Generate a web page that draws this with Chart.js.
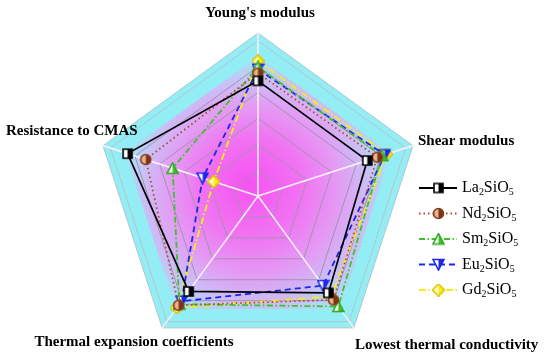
<!DOCTYPE html>
<html>
<head>
<meta charset="utf-8">
<script src="https://cdn.jsdelivr.net/npm/chart.js@4.4.1/dist/chart.umd.min.js"></script>
<style>
    html, body { margin: 0; padding: 0; background: #fff; }
    #radar { display: block; }
</style>
</head>
<body>
<canvas id="radar" width="550" height="359"></canvas>
<script>
const axisLabels = ["Young's modulus", 'Shear modulus', 'Lowest thermal conductivity', 'Thermal expansion coefficients', 'Resistance to CMAS'];
const seriesNames = ['La2SiO5', 'Nd2SiO5', 'Sm2SiO5', 'Eu2SiO5', 'Gd2SiO5'];
const laValues = [4.45, 4.44, 4.63, 4.56, 5.30];
const ndValues = [4.75, 4.85, 4.96, 5.22, 4.56];
const smValues = [4.99, 5.04, 5.28, 5.17, 3.47];
const euValues = [4.90, 5.15, 4.28, 5.03, 2.25];
const gdValues = [5.22, 5.23, 4.80, 5.34, 1.80];
const scaleMax = 6.3;

const SERIF = '"Liberation Serif", "Times New Roman", serif';

function makeMarker(shape, dark, light, edge) {
    const c = document.createElement('canvas');
    c.width = 13; c.height = 13;
    const g = c.getContext('2d');
    const path = () => {
        g.beginPath();
        if (shape === 'square') g.rect(2, 2, 9, 9);
        else if (shape === 'circle') g.arc(6.5, 6.5, 5, 0, Math.PI * 2);
        else if (shape === 'up') { g.moveTo(6.5, 1); g.lineTo(12, 11.5); g.lineTo(1, 11.5); g.closePath(); }
        else if (shape === 'down') { g.moveTo(1, 1.5); g.lineTo(12, 1.5); g.lineTo(6.5, 12); g.closePath(); }
        else { g.moveTo(6.5, 0.5); g.lineTo(12.5, 6.5); g.lineTo(6.5, 12.5); g.lineTo(0.5, 6.5); g.closePath(); }
    };
    path();
    g.fillStyle = dark;
    g.fill();
    g.save();
    path();
    g.clip();
    g.fillStyle = light;
    g.fillRect(0, 0, 6.5, 13);
    g.restore();
    path();
    g.strokeStyle = edge;
    g.lineWidth = 1.6;
    g.stroke();
    return c;
}

const seriesStyles = [
    { color: '#000000', dash: [], marker: makeMarker('square', '#000000', '#ffffff', '#000000') },
    { color: '#b4452e', dash: [1.5, 3], marker: makeMarker('circle', '#7a3417', '#e6b48c', '#8a3a1a') },
    { color: '#3fc22a', dash: [6, 2.5, 1.5, 2.5], marker: makeMarker('up', '#3fc22a', '#ffffff', '#2fa81e') },
    { color: '#1c28e8', dash: [6, 4], marker: makeMarker('down', '#1c28e8', '#ffffff', '#1c28e8') },
    { color: '#f7ec1a', dash: [7, 2.5, 1.5, 2.5], marker: makeMarker('diamond', '#f7ec1a', '#fffbc0', '#e3c400') }
];

const allValues = [laValues, ndValues, smValues, euValues, gdValues];

const datasets = seriesNames.map((name, i) => ({
    label: name,
    data: allValues[i],
    borderColor: seriesStyles[i].color,
    borderDash: seriesStyles[i].dash,
    borderWidth: i === 0 ? 1.7 : 1.8,
    backgroundColor: 'transparent',
    fill: false,
    pointStyle: seriesStyles[i].marker,
    pointRadius: 6
}));

function pentagon(ctx, scale, value) {
    ctx.beginPath();
    for (let i = 0; i < axisLabels.length; i++) {
        const p = scale.getPointPositionForValue(i, value);
        if (i === 0) ctx.moveTo(p.x, p.y); else ctx.lineTo(p.x, p.y);
    }
    ctx.closePath();
}

const backgroundPlugin = {
    id: 'pentagonBackground',
    beforeDraw(chart) {
        const ctx = chart.ctx;
        const r = chart.scales.r;
        ctx.save();
        pentagon(ctx, r, scaleMax);
        ctx.fillStyle = '#93edf5';
        ctx.fill();
        const grad = ctx.createRadialGradient(r.xCenter - 10, r.yCenter - 14, 0, r.xCenter, r.yCenter, r.drawingArea * 0.86);
        grad.addColorStop(0, '#f652f2');
        grad.addColorStop(0.35, '#f172f2');
        grad.addColorStop(0.6, '#e49af4');
        grad.addColorStop(0.8, '#cabff6');
        grad.addColorStop(0.93, '#addcf6');
        grad.addColorStop(1, '#9ee8f6');
        pentagon(ctx, r, 5.4);
        ctx.fillStyle = grad;
        ctx.fill();
        ctx.restore();
    }
};

function drawFormula(ctx, text, x, y, size) {
    const parts = text.match(/[A-Za-z]+|\d+/g);
    let cx = x;
    parts.forEach(part => {
        const sub = /^\d+$/.test(part);
        ctx.font = (sub ? size * 0.62 : size) + 'px ' + SERIF;
        ctx.fillText(part, cx, sub ? y + size * 0.3 : y);
        cx += ctx.measureText(part).width;
    });
}

const labelPlugin = {
    id: 'axisTitlesAndLegend',
    afterDraw(chart) {
        const ctx = chart.ctx;
        const r = chart.scales.r;
        ctx.save();
        ctx.fillStyle = '#000';
        ctx.textBaseline = 'middle';
        ctx.font = 'bold 15px ' + SERIF;

        const top = r.getPointPositionForValue(0, scaleMax);
        ctx.textAlign = 'center';
        ctx.fillText(axisLabels[0], top.x + 2, 13);
        ctx.fillText(axisLabels[3], 134, 342);

        ctx.textAlign = 'left';
        ctx.fillText(axisLabels[1], 418, 141);
        ctx.fillText(axisLabels[2], 355, 345);
        ctx.fillText(axisLabels[4], 6, 131);

        // legend
        const x0 = chart.chartArea.right - 2;
        seriesNames.forEach((name, i) => {
            const y = 188 + i * 25.5;
            ctx.beginPath();
            ctx.setLineDash(seriesStyles[i].dash);
            ctx.strokeStyle = seriesStyles[i].color;
            ctx.lineWidth = 1.8;
            ctx.moveTo(x0, y);
            ctx.lineTo(x0 + 38, y);
            ctx.stroke();
            ctx.setLineDash([]);
            ctx.drawImage(seriesStyles[i].marker, x0 + 13, y - 6.5);
            ctx.fillStyle = '#000';
            ctx.textAlign = 'left';
            drawFormula(ctx, name, x0 + 43, y, 16);
        });
        ctx.restore();
    }
};

new Chart(document.getElementById('radar'), {
    type: 'radar',
    data: { labels: axisLabels, datasets },
    options: {
        responsive: false,
        animation: false,
        devicePixelRatio: 1,
        layout: { padding: { left: 95, right: 129, top: 33, bottom: 0 } },
        plugins: { legend: { display: false }, tooltip: { enabled: false } },
        elements: { line: { tension: 0 } },
        scales: {
            r: {
                min: 0,
                max: scaleMax,
                ticks: { display: false, stepSize: 1 },
                pointLabels: { display: false },
                grid: { color: ctx => ctx.index >= 6 ? '#b4c6cc' : '#a293b4', lineWidth: 1 },
                angleLines: { color: '#fbeefb', lineWidth: 1.6 }
            }
        }
    },
    plugins: [backgroundPlugin, labelPlugin]
});
</script>
</body>
</html>
